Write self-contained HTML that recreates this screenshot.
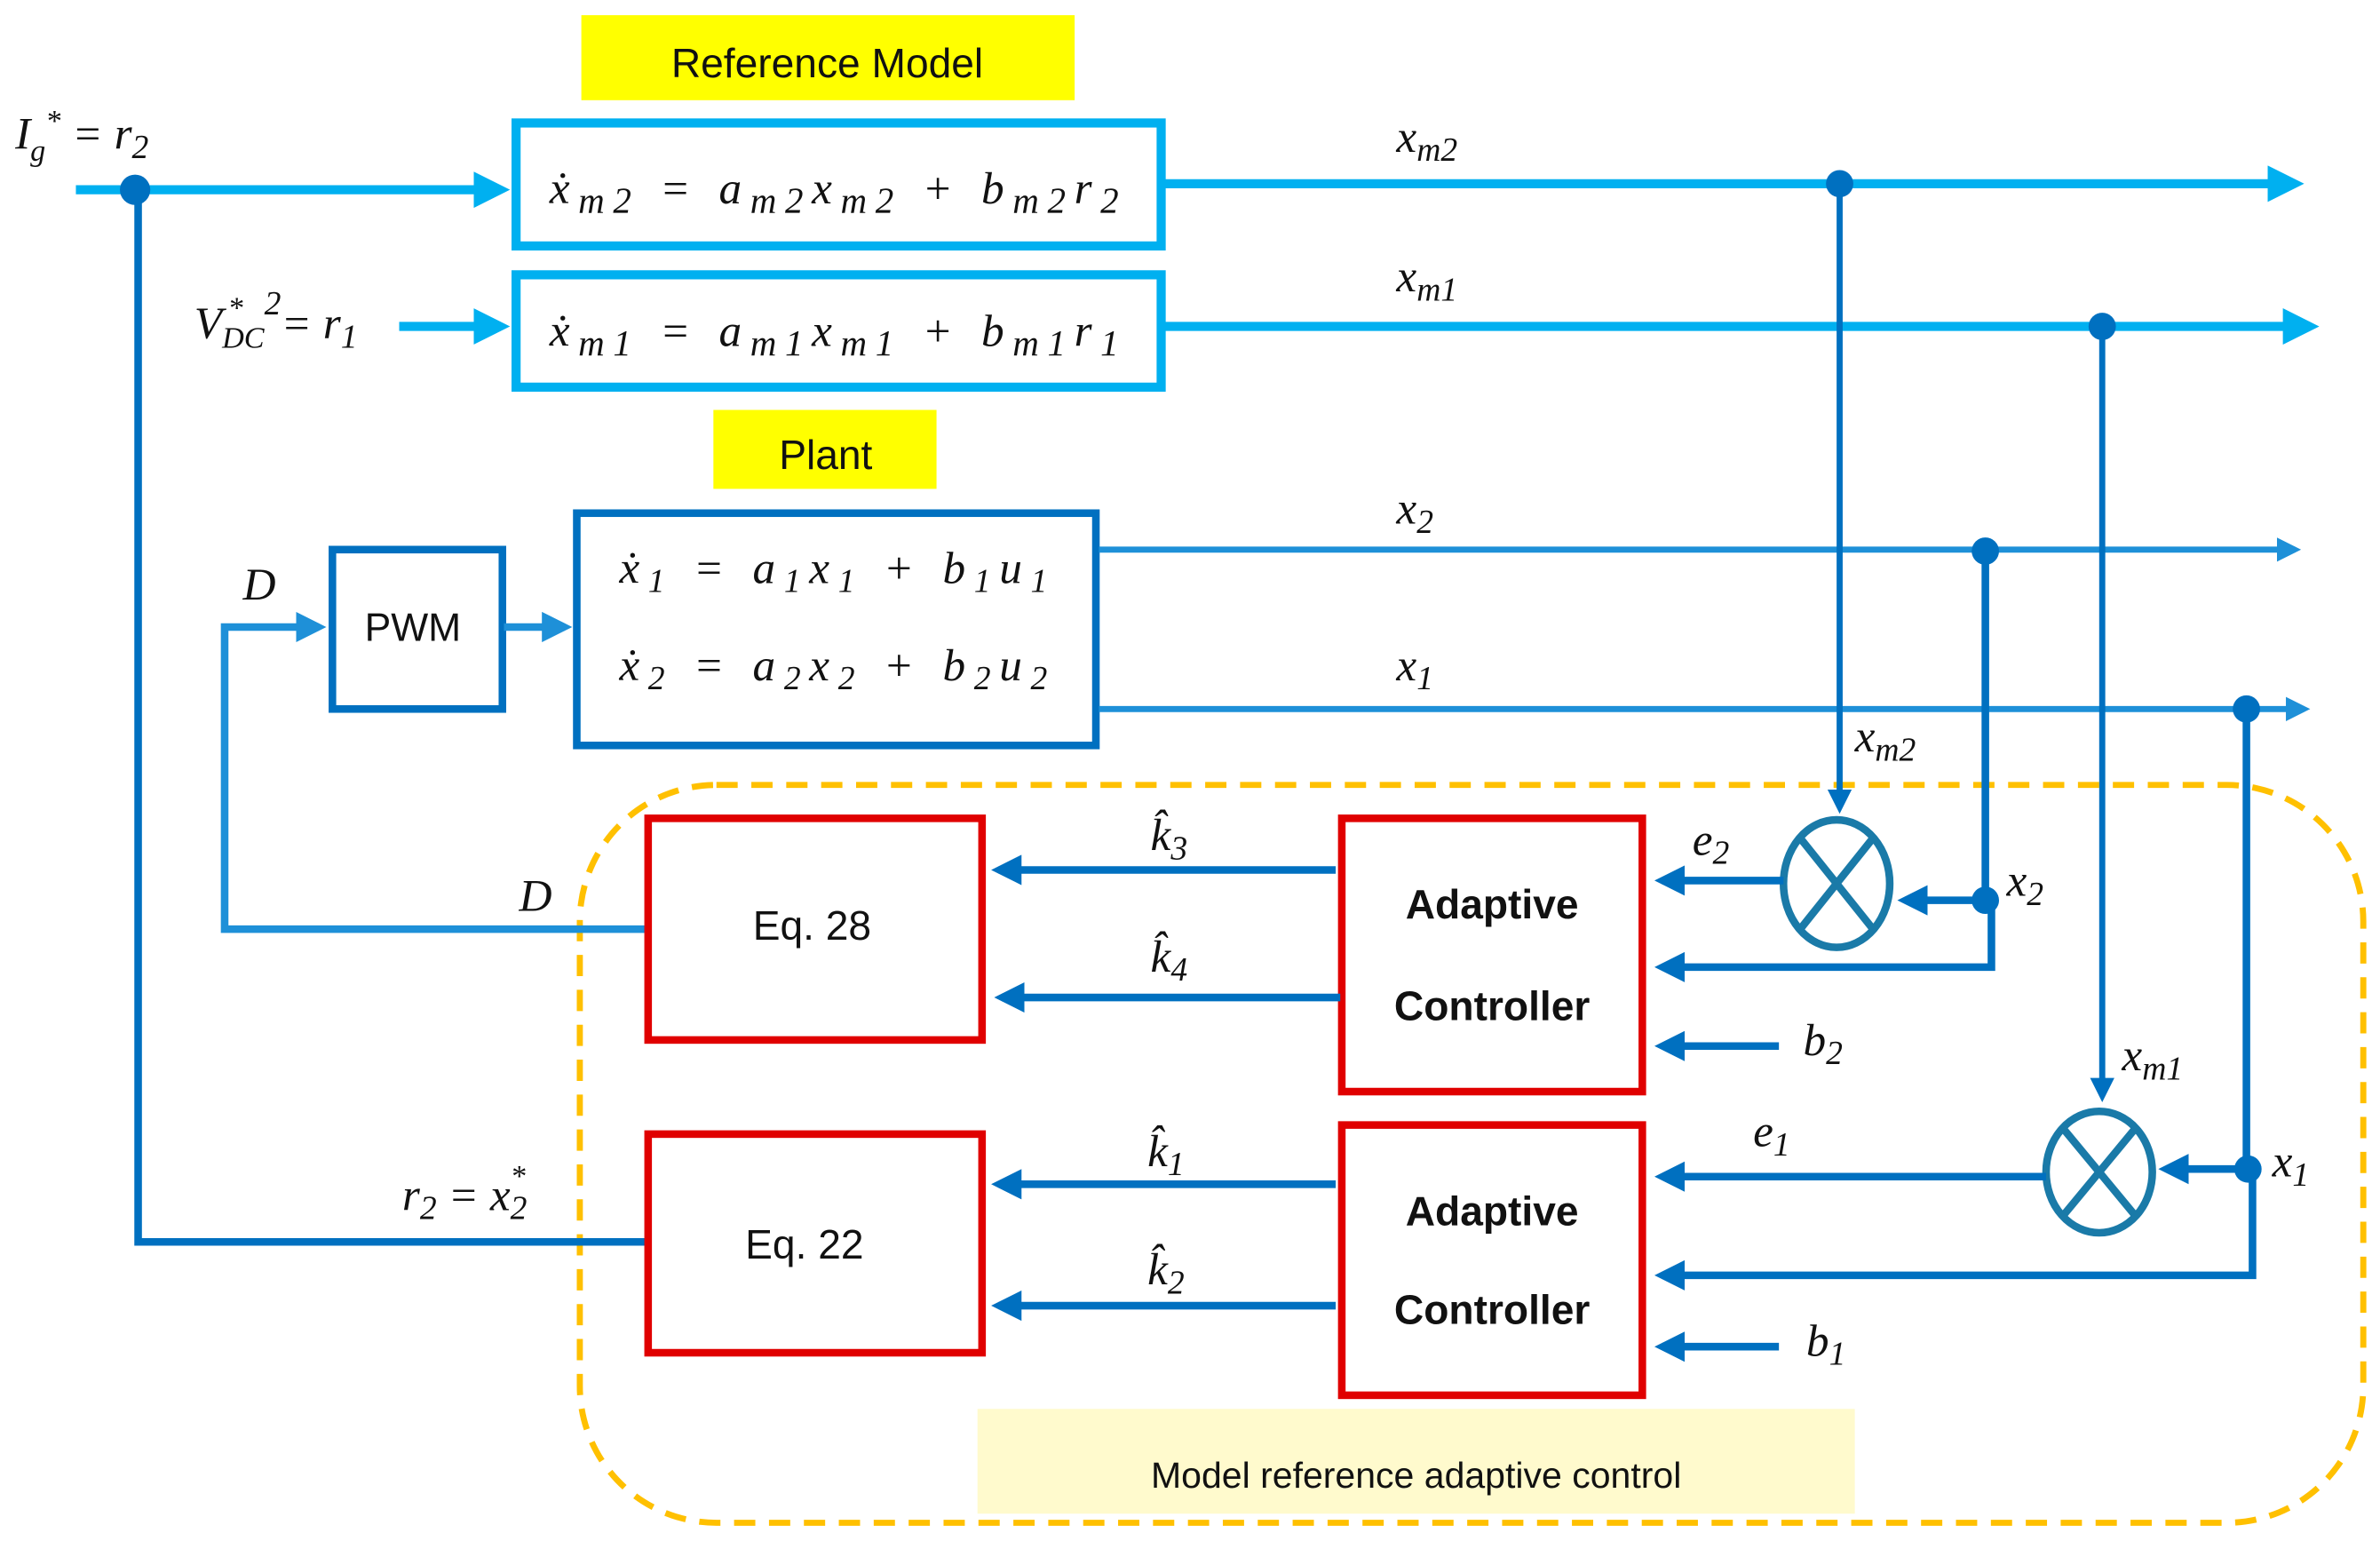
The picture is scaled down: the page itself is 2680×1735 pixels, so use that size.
<!DOCTYPE html>
<html><head><meta charset="utf-8"><style>
html,body{margin:0;padding:0;background:#fff;}
svg{display:block}
.m{font-family:"Liberation Serif",serif;font-style:italic;font-size:30px;fill:#111}
.s{font-family:"Liberation Sans",sans-serif;fill:#111}
</style></head><body>
<svg width="2680" height="1735" viewBox="0 0 1568 1015" preserveAspectRatio="none" xmlns="http://www.w3.org/2000/svg">
<defs>
<marker id="al" markerWidth="4" markerHeight="4" refX="3" refY="2" orient="auto" markerUnits="strokeWidth"><path d="M0,0 L4,2 L0,4z" fill="#00b0f0"/></marker>
<marker id="ad" markerWidth="4" markerHeight="4" refX="3" refY="2" orient="auto" markerUnits="strokeWidth"><path d="M0,0 L4,2 L0,4z" fill="#0070c0"/></marker>
<marker id="am" markerWidth="4" markerHeight="4" refX="3" refY="2" orient="auto" markerUnits="strokeWidth"><path d="M0,0 L4,2 L0,4z" fill="#1e90d8"/></marker>
</defs>
<rect x="382" y="517" width="1175" height="486" rx="90" fill="none" stroke="#ffc000" stroke-width="4" stroke-dasharray="14,9"/>
<rect x="644" y="928" width="578" height="69" fill="#fffacd"/>
<text x="933" y="980" class="s" font-size="24" text-anchor="middle">Model reference adaptive control</text>
<rect x="383" y="10" width="325" height="56" fill="#ffff00"/>
<text x="545" y="51" class="s" font-size="27" text-anchor="middle">Reference Model</text>
<rect x="470" y="270" width="147" height="52" fill="#ffff00"/>
<text x="544" y="309" class="s" font-size="27" text-anchor="middle">Plant</text>
<rect x="340" y="81" width="425" height="81" fill="#fff" stroke="#00b0f0" stroke-width="6"/>
<rect x="340" y="181" width="425" height="74" fill="#fff" stroke="#00b0f0" stroke-width="6"/>
<text x="362" y="134" class="m" font-size="36" textLength="375" lengthAdjust="spacing">ẋ<tspan font-size="24" dy="6">m2</tspan><tspan dy="-6"> = </tspan>a<tspan font-size="24" dy="6">m2</tspan><tspan dy="-6">x</tspan><tspan font-size="24" dy="6">m2</tspan><tspan dy="-6"> + b</tspan><tspan font-size="24" dy="6">m2</tspan><tspan dy="-6">r</tspan><tspan font-size="24" dy="6">2</tspan></text>
<text x="362" y="228" class="m" font-size="36" textLength="375" lengthAdjust="spacing">ẋ<tspan font-size="24" dy="6">m1</tspan><tspan dy="-6"> = </tspan>a<tspan font-size="24" dy="6">m1</tspan><tspan dy="-6">x</tspan><tspan font-size="24" dy="6">m1</tspan><tspan dy="-6"> + b</tspan><tspan font-size="24" dy="6">m1</tspan><tspan dy="-6">r</tspan><tspan font-size="24" dy="6">1</tspan></text>
<text x="10" y="98" class="m" font-size="34">I<tspan font-size="20" dy="8">g</tspan><tspan font-size="20" dy="-20">*</tspan><tspan dy="12"> = r</tspan><tspan font-size="22" dy="6">2</tspan></text>
<line x1="50" y1="125" x2="330" y2="125" stroke="#00b0f0" stroke-width="6" marker-end="url(#al)"/>
<circle cx="89" cy="125" r="10" fill="#0070c0"/>
<polyline points="91,125 91,818 428,818" fill="none" stroke="#0070c0" stroke-width="5"/>
<text x="128" y="223" class="m" font-size="32">V<tspan font-size="20" dy="6">DC</tspan><tspan font-size="20" dx="-24" dy="-20">*</tspan><tspan font-size="22" dx="14" dy="-2">2</tspan><tspan dy="16">= r</tspan><tspan font-size="22" dy="6">1</tspan></text>
<line x1="263" y1="215" x2="330" y2="215" stroke="#00b0f0" stroke-width="6" marker-end="url(#al)"/>
<line x1="767" y1="121" x2="1512" y2="121" stroke="#00b0f0" stroke-width="6" marker-end="url(#al)"/>
<line x1="767" y1="215" x2="1522" y2="215" stroke="#00b0f0" stroke-width="6" marker-end="url(#al)"/>
<text x="920" y="100" class="m" font-size="32">x<tspan font-size="22" dy="6">m2</tspan></text>
<text x="920" y="192" class="m" font-size="32">x<tspan font-size="22" dy="6">m1</tspan></text>
<rect x="380" y="338" width="342" height="153" fill="#fff" stroke="#0070c0" stroke-width="5"/>
<text x="408" y="384" class="m" font-size="34" textLength="282" lengthAdjust="spacing">ẋ<tspan font-size="22" dy="6">1</tspan><tspan dy="-6"> =  a</tspan><tspan font-size="22" dy="6">1</tspan><tspan dy="-6">x</tspan><tspan font-size="22" dy="6">1</tspan><tspan dy="-6"> + b</tspan><tspan font-size="22" dy="6">1</tspan><tspan dy="-6">u</tspan><tspan font-size="22" dy="6">1</tspan></text>
<text x="408" y="448" class="m" font-size="34" textLength="282" lengthAdjust="spacing">ẋ<tspan font-size="22" dy="6">2</tspan><tspan dy="-6"> =  a</tspan><tspan font-size="22" dy="6">2</tspan><tspan dy="-6">x</tspan><tspan font-size="22" dy="6">2</tspan><tspan dy="-6"> + b</tspan><tspan font-size="22" dy="6">2</tspan><tspan dy="-6">u</tspan><tspan font-size="22" dy="6">2</tspan></text>
<rect x="219" y="362" width="112" height="105" fill="#fff" stroke="#0070c0" stroke-width="5"/>
<text x="272" y="422" class="s" font-size="26" text-anchor="middle">PWM</text>
<line x1="332" y1="413" x2="372" y2="413" stroke="#1e90d8" stroke-width="5" marker-end="url(#am)"/>
<polyline points="428,612 148,612 148,413 210,413" fill="none" stroke="#1e90d8" stroke-width="5" marker-end="url(#am)"/>
<text x="160" y="395" class="m" font-size="32">D</text>
<text x="342" y="600" class="m" font-size="32">D</text>
<line x1="724" y1="362" x2="1512" y2="362" stroke="#1e90d8" stroke-width="4" marker-end="url(#am)"/>
<line x1="724" y1="467" x2="1518" y2="467" stroke="#1e90d8" stroke-width="4" marker-end="url(#am)"/>
<text x="920" y="345" class="m" font-size="32">x<tspan font-size="22" dy="6">2</tspan></text>
<text x="920" y="448" class="m" font-size="32">x<tspan font-size="22" dy="6">1</tspan></text>
<circle cx="1212" cy="121" r="9" fill="#0070c0"/>
<line x1="1212" y1="121" x2="1212" y2="532" stroke="#0070c0" stroke-width="4" marker-end="url(#ad)"/>
<text x="1222" y="495" class="m" font-size="32">x<tspan font-size="22" dy="6">m2</tspan></text>
<circle cx="1385" cy="215" r="9" fill="#0070c0"/>
<line x1="1385" y1="215" x2="1385" y2="722" stroke="#0070c0" stroke-width="4" marker-end="url(#ad)"/>
<text x="1398" y="705" class="m" font-size="32">x<tspan font-size="22" dy="6">m1</tspan></text>
<circle cx="1308" cy="363" r="9" fill="#0070c0"/>
<polyline points="1308,363 1308,593 1312,593 1312,637 1095,637" fill="none" stroke="#0070c0" stroke-width="5" marker-end="url(#ad)"/>
<circle cx="1308" cy="593" r="9" fill="#0070c0"/>
<line x1="1308" y1="593" x2="1255" y2="593" stroke="#0070c0" stroke-width="5" marker-end="url(#ad)"/>
<text x="1322" y="590" class="m" font-size="32">x<tspan font-size="22" dy="6">2</tspan></text>
<circle cx="1480" cy="467" r="9" fill="#0070c0"/>
<polyline points="1480,467 1480,770 1484,770 1484,840 1095,840" fill="none" stroke="#0070c0" stroke-width="5" marker-end="url(#ad)"/>
<circle cx="1481" cy="770" r="9" fill="#0070c0"/>
<line x1="1481" y1="770" x2="1427" y2="770" stroke="#0070c0" stroke-width="5" marker-end="url(#ad)"/>
<text x="1497" y="775" class="m" font-size="32">x<tspan font-size="22" dy="6">1</tspan></text>
<g stroke="#1a7aa8" stroke-width="5" fill="#fff">
<ellipse cx="1210" cy="582" rx="35" ry="42"/>
<line x1="1186" y1="552" x2="1234" y2="612"/><line x1="1234" y1="552" x2="1186" y2="612"/>
<ellipse cx="1383" cy="772" rx="35" ry="40"/>
<line x1="1359" y1="743" x2="1407" y2="801"/><line x1="1407" y1="743" x2="1359" y2="801"/>
</g>
<line x1="1175" y1="580" x2="1095" y2="580" stroke="#0070c0" stroke-width="5" marker-end="url(#ad)"/>
<text x="1115" y="563" class="m" font-size="32">e<tspan font-size="22" dy="6">2</tspan></text>
<line x1="1348" y1="775" x2="1095" y2="775" stroke="#0070c0" stroke-width="5" marker-end="url(#ad)"/>
<text x="1155" y="755" class="m" font-size="32">e<tspan font-size="22" dy="6">1</tspan></text>
<line x1="1172" y1="689" x2="1095" y2="689" stroke="#0070c0" stroke-width="5" marker-end="url(#ad)"/>
<text x="1188" y="695" class="m" font-size="32">b<tspan font-size="22" dy="6">2</tspan></text>
<line x1="1172" y1="887" x2="1095" y2="887" stroke="#0070c0" stroke-width="5" marker-end="url(#ad)"/>
<text x="1190" y="893" class="m" font-size="32">b<tspan font-size="22" dy="6">1</tspan></text>
<rect x="884" y="539" width="198" height="180" fill="#fff" stroke="#e00000" stroke-width="5"/>
<rect x="884" y="741" width="198" height="178" fill="#fff" stroke="#e00000" stroke-width="5"/>
<g class="s" font-size="27" font-weight="bold" text-anchor="middle">
<text x="983" y="605">Adaptive</text><text x="983" y="672">Controller</text>
<text x="983" y="807">Adaptive</text><text x="983" y="872">Controller</text>
</g>
<rect x="427" y="539" width="220" height="146" fill="#fff" stroke="#e00000" stroke-width="5"/>
<rect x="427" y="747" width="220" height="144" fill="#fff" stroke="#e00000" stroke-width="5"/>
<text x="535" y="619" class="s" font-size="27" text-anchor="middle">Eq. 28</text>
<text x="530" y="829" class="s" font-size="27" text-anchor="middle">Eq. 22</text>
<g stroke="#0070c0" stroke-width="5">
<line x1="880" y1="573" x2="658" y2="573" marker-end="url(#ad)"/>
<line x1="883" y1="657" x2="660" y2="657" marker-end="url(#ad)"/>
<line x1="880" y1="780" x2="658" y2="780" marker-end="url(#ad)"/>
<line x1="880" y1="860" x2="658" y2="860" marker-end="url(#ad)"/>
</g>
<text x="758" y="560" class="m" font-size="32">k̂<tspan font-size="22" dy="6">3</tspan></text>
<text x="758" y="640" class="m" font-size="32">k̂<tspan font-size="22" dy="6">4</tspan></text>
<text x="756" y="768" class="m" font-size="32">k̂<tspan font-size="22" dy="6">1</tspan></text>
<text x="756" y="846" class="m" font-size="32">k̂<tspan font-size="22" dy="6">2</tspan></text>
<text x="265" y="797" class="m" font-size="32">r<tspan font-size="22" dy="6">2</tspan><tspan dy="-6"> = x</tspan><tspan font-size="22" dy="6">2</tspan><tspan font-size="20" dx="-11" dy="-22">*</tspan></text>
</svg>
</body></html>
